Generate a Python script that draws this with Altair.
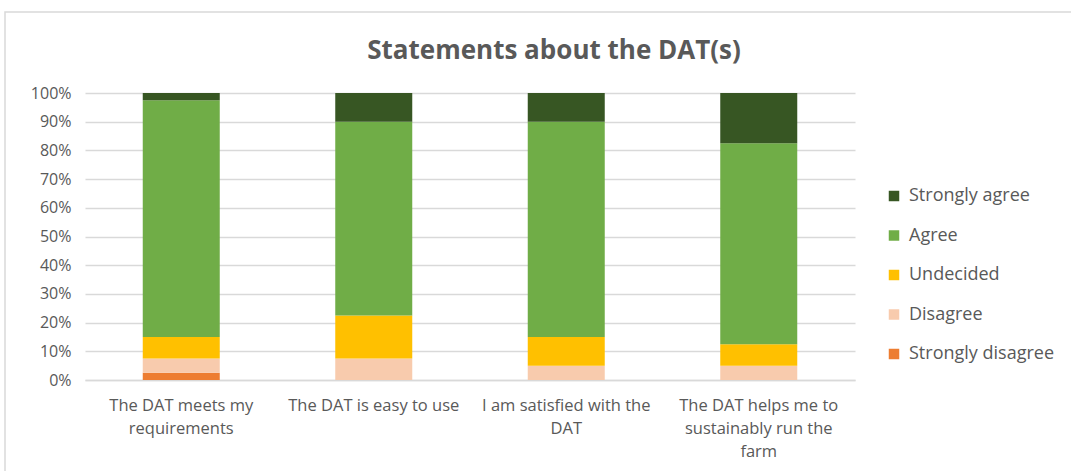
import altair as alt
import pandas as pd

title_text = "Statements about the DAT(s)"
statements = [
    "The DAT meets my requirements",
    "The DAT is easy to use",
    "I am satisfied with the DAT",
    "The DAT helps me to sustainably run the farm",
]
label_lines = [
    "The DAT meets my|requirements",
    "The DAT is easy to use",
    "I am satisfied with the|DAT",
    "The DAT helps me to|sustainably run the|farm",
]
responses = ["Strongly disagree", "Disagree", "Undecided", "Agree", "Strongly agree"]
colors = ["#ed7d31", "#f8cbad", "#ffc000", "#70ad47", "#375623"]

strongly_disagree = [2.5, 0.0, 0.0, 0.0]
disagree = [5.0, 7.5, 5.0, 5.0]
undecided = [7.5, 15.0, 10.0, 7.5]
agree = [82.5, 67.5, 75.0, 70.0]
strongly_agree = [2.5, 10.0, 10.0, 17.5]

series = [strongly_disagree, disagree, undecided, agree, strongly_agree]
rows = []
for ri, (resp, vals) in enumerate(zip(responses, series)):
    for si, s in enumerate(statements):
        rows.append({"statement": label_lines[si], "response": resp, "order": ri, "value": vals[si] / 100.0})
df = pd.DataFrame(rows)

FONT = "Open Sans"
GREY = "#595959"

one = pd.DataFrame({"a": [0]})

border = alt.Chart(one).mark_rect(
    fill=None, stroke="#d9d9d9", strokeWidth=1.5
).encode(x=alt.value(-80), x2=alt.value(1100), y=alt.value(-81), y2=alt.value(500))

title = alt.Chart(one).mark_text(
    text=title_text, fontSize=26, font=FONT, fontWeight="bold", color=GREY,
    align="center", baseline="middle"
).encode(x=alt.value(469), y=alt.value(-42))

bars = alt.Chart(df).mark_bar().encode(
    x=alt.X("statement:N", sort=label_lines, title=None,
            scale=alt.Scale(paddingInner=0.6, paddingOuter=0.3),
            axis=alt.Axis(labelExpr="split(datum.label, '|')", labelAngle=0,
                          labelFontSize=16.5, labelColor=GREY, labelFont=FONT,
                          labelLineHeight=23, labelPadding=17, ticks=False,
                          domainColor="#d9d9d9", domainWidth=1.5, labelLimit=300)),
    y=alt.Y("value:Q", stack="zero", title=None,
            scale=alt.Scale(domain=[0, 1], nice=False),
            axis=alt.Axis(format=".0%", values=[i / 10 for i in range(11)],
                          labelFontSize=16, labelColor=GREY, labelFont=FONT,
                          labelPadding=14, ticks=False, domain=False,
                          gridColor="#d9d9d9", gridWidth=1.5)),
    color=alt.Color("response:N",
                    scale=alt.Scale(domain=responses[::-1], range=colors[::-1]),
                    legend=alt.Legend(title=None, orient="none", legendX=800, legendY=94,
                                      symbolType="square", symbolSize=110, symbolStrokeWidth=0,
                                      labelFontSize=18, labelColor=GREY, labelFont=FONT,
                                      rowPadding=21.5, labelOffset=6)),
    order=alt.Order("order:Q", sort="ascending"),
)

chart = alt.layer(border, bars, title).properties(
    width=770,
    height=287,
).configure(
    autosize=alt.AutoSizeParams(type="none"),
    padding={"left": 85, "top": 93, "right": 216, "bottom": 91},
).configure_view(stroke=None)

chart.save("out.html", embed_options={"renderer": "svg", "actions": False})
